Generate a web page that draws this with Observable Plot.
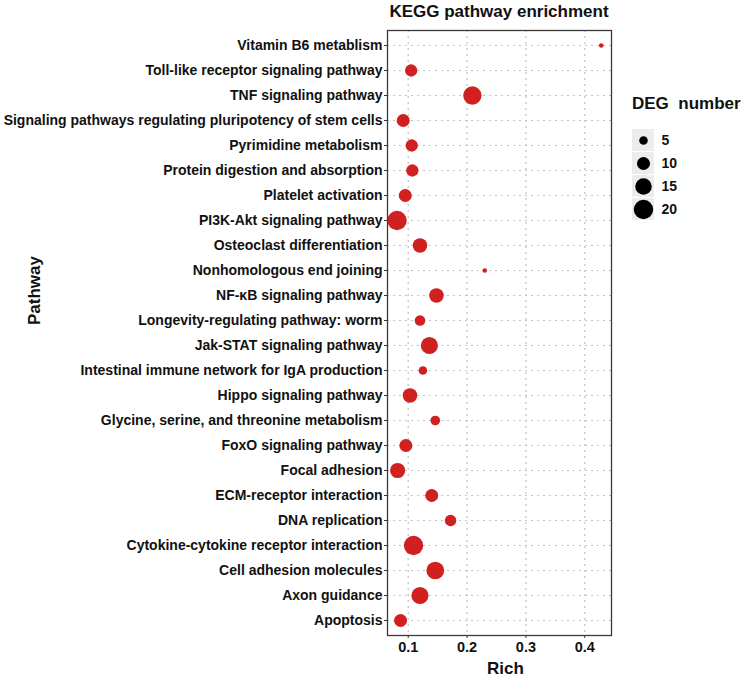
<!DOCTYPE html>
<html><head><meta charset="utf-8">
<script src="https://cdn.jsdelivr.net/npm/d3@7"></script>
<script src="https://cdn.jsdelivr.net/npm/@observablehq/plot@0.6"></script>
<style>
body{margin:0;background:#fff;}
#wrap{position:relative;width:747px;height:680px;overflow:hidden;font-family:"Liberation Sans",Arial,sans-serif;font-weight:bold;color:#111;}
#title{position:absolute;left:299px;width:400px;top:2px;text-align:center;font-size:17px;white-space:nowrap;}
#legtitle{position:absolute;left:632px;top:94px;font-size:17px;white-space:pre;}
#main{position:absolute;left:0;top:0;}
#legend{position:absolute;left:630px;top:120px;}
</style></head>
<body>
<div id="wrap">
  <div id="main"></div>
  <div id="title">KEGG pathway enrichment</div>
  <div id="legtitle">DEG  number</div>
  <div id="legend"></div>
</div>
<script>
const pathways = [
  "Vitamin B6 metablism",
  "Toll-like receptor signaling pathway",
  "TNF signaling pathway",
  "Signaling pathways regulating pluripotency of stem cells",
  "Pyrimidine metabolism",
  "Protein digestion and absorption",
  "Platelet activation",
  "PI3K-Akt signaling pathway",
  "Osteoclast differentiation",
  "Nonhomologous end joining",
  "NF-κB signaling pathway",
  "Longevity-regulating pathway: worm",
  "Jak-STAT signaling pathway",
  "Intestinal immune network for IgA production",
  "Hippo signaling pathway",
  "Glycine, serine, and threonine metabolism",
  "FoxO signaling pathway",
  "Focal adhesion",
  "ECM-receptor interaction",
  "DNA replication",
  "Cytokine-cytokine receptor interaction",
  "Cell adhesion molecules",
  "Axon guidance",
  "Apoptosis"
];
const richValues = [0.428,0.105,0.209,0.0915,0.106,0.107,0.095,0.081,0.120,0.230,0.148,0.120,0.136,0.125,0.103,0.146,0.096,0.082,0.140,0.172,0.109,0.146,0.120,0.087];
const degNumbers = [2,9,18,10,9,9,10,20,12,2,12,7,16,5,12,6,10,13,10,8,20,17,16,10];
const xTicks = [0.1,0.2,0.3,0.4];
const legendValues = [5,10,15,20];

const rows = pathways.map((p,i)=>({pathway:p, rich:richValues[i], deg:degNumbers[i]}));

const font = '"Liberation Sans", Arial, sans-serif';
const rScale = {type:"sqrt", domain:[2,20], range:[2.3,9.7]};
const gridStyle = {stroke:"#c2c2c2", strokeOpacity:1, strokeDasharray:"2,4", strokeWidth:1.2};

const main = Plot.plot({
  width:630, height:680,
  marginLeft:387, marginRight:19, marginTop:30, marginBottom:45,
  style:{fontFamily:font, fontWeight:"bold", color:"#111", background:"transparent", overflow:"visible"},
  x:{domain:[0.0648,0.4454]},
  y:{type:"point", domain:pathways, padding:0.6},
  r:rScale,
  marks:[
    Plot.gridX(xTicks, gridStyle),
    Plot.gridY(pathways, gridStyle),
    Plot.dot(rows, {x:"rich", y:"pathway", r:"deg", fill:"#d02020", stroke:"none"}),
    Plot.frame({stroke:"#3a3a3a", strokeWidth:1.3}),
    Plot.axisX(xTicks, {tickSize:3, tickPadding:3, fontSize:14.5, label:null, stroke:"#333"}),
    Plot.axisY({tickSize:3, tickPadding:2, fontSize:14, label:null, stroke:"#333"}),
    Plot.text(["Rich"], {frameAnchor:"bottom", lineAnchor:"middle", dx:6, dy:33, fontSize:17, fontWeight:"bold"}),
    Plot.text(["Pathway"], {frameAnchor:"left", lineAnchor:"middle", rotate:-90, dx:-353, dy:-8, fontSize:17, fontWeight:"bold"})
  ]
});
document.getElementById("main").appendChild(main);

const legend = Plot.plot({
  width:84, height:110,
  marginLeft:2, marginRight:60, marginTop:8, marginBottom:8,
  style:{fontFamily:font, fontWeight:"bold", color:"#111", background:"transparent", overflow:"visible"},
  y:{type:"band", domain:legendValues, padding:0.04},
  r:rScale,
  marks:[
    Plot.cell(legendValues, {y:d=>d, fill:"#ececec"}),
    Plot.dot(legendValues, {y:d=>d, r:d=>d, fill:"#000", stroke:"none"}),
    Plot.axisY({anchor:"right", tickSize:0, tickPadding:7, fontSize:14, label:null})
  ]
});
document.getElementById("legend").appendChild(legend);
</script>
</body></html>
